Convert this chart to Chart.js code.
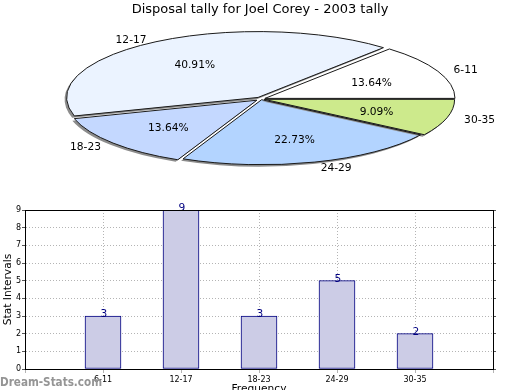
<!DOCTYPE html>
<html>
<head>
<meta charset="utf-8">
<script src="https://cdn.jsdelivr.net/npm/chart.js@4.4.1/dist/chart.umd.min.js"></script>
<style>
  body { margin: 0; background: #fff; }
  #wrap { position: relative; width: 520px; height: 390px; overflow: hidden; }
  #wrap canvas { position: absolute; left: 0; top: 0; }
</style>
</head>
<body>
<div id="wrap">
  <canvas id="barChart" width="520" height="400"></canvas>
  <canvas id="pieChart" width="520" height="390"></canvas>
</div>
<script>
// datos del grafico
var categories = ['6-11', '12-17', '18-23', '24-29', '30-35'];
var tally = [3, 9, 3, 5, 2];
var sliceColors = ['#ffffff', '#ebf3ff', '#c4d8ff', '#b3d4ff', '#cdea8c'];
var explode = [16, 20, 20, 8, 12];
var xLabels = [''].concat(categories).concat(['']);   // huecos a los lados como en el original
var barValues = [null].concat(tally).concat([null]);

var FONT = "'DejaVu Sans', sans-serif";

// elipse donde se dibuja la torta aplanada
var CX = 261, CY = 99, RX = 189, RY = 65;

function ellipse(ctx, arc) {
    ctx.translate(CX, CY);
    ctx.scale(RX / arc.outerRadius, -RY / arc.outerRadius);
    ctx.translate(-arc.x, -arc.y);
}

var flatPie = {
    id: 'flatPie',
    beforeDatasetsDraw: function (chart) {
        var ctx = chart.ctx;
        var arc = chart.getDatasetMeta(0).data[0];
        ctx.save();
        ellipse(ctx, arc);
        ctx.shadowColor = '#8c8c8c';   // borde 3d
        ctx.shadowOffsetX = -2;
        ctx.shadowOffsetY = 2;
    },
    afterDatasetsDraw: function (chart) {
        var ctx = chart.ctx;
        ctx.restore();
        var arcs = chart.getDatasetMeta(0).data;
        var total = tally.reduce(function (a, b) { return a + b; }, 0);

        arcs.forEach(function (a, i) {
            var off = (a.options.offset || 0) / 4;
            var mid = (a.startAngle + a.endAngle) / 2;
            var fix = 1 - Math.sin(Math.min(Math.PI, a.circumference));
            var r = a.outerRadius + off * fix;
            var ox = a.x + Math.cos(mid) * off, oy = a.y + Math.sin(mid) * off;
            // contorno: se arma el camino escalado y se traza sin escala
            ctx.save();
            ellipse(ctx, a);
            ctx.beginPath();
            ctx.moveTo(ox, oy);
            ctx.arc(ox, oy, r, a.startAngle, a.endAngle);
            ctx.closePath();
            ctx.restore();
            ctx.lineWidth = 1;
            ctx.strokeStyle = '#1a1a1a';
            ctx.stroke();

            // textos
            var c = Math.cos(mid), s = Math.sin(mid);
            var dx = c * off / a.outerRadius, dy = s * off / a.outerRadius;
            ctx.fillStyle = '#000';
            ctx.font = '10.67px ' + FONT;
            ctx.textBaseline = 'middle';
            ctx.textAlign = 'center';
            var pct = (tally[i] / total * 100).toFixed(2) + '%';
            ctx.fillText(pct, CX + RX * (0.62 * c + dx), CY - RY * (0.62 * s + dy) + 1.5);
            ctx.textAlign = c >= 0 ? 'left' : 'right';
            ctx.fillText(categories[i], CX + RX * 1.12 * c, CY - RY * 1.1 * s + 1);
        });
    }
};

new Chart(document.getElementById('pieChart'), {
    type: 'pie',
    data: {
        labels: categories,
        datasets: [{
            data: tally,
            backgroundColor: sliceColors,
            borderWidth: 0,
            offset: explode,
            hoverOffset: 0
        }]
    },
    options: {
        responsive: false,
        animation: false,
        events: [],
        rotation: 90,
        plugins: {
            legend: { display: false },
            tooltip: { enabled: false },
            title: {
                display: true,
                text: 'Disposal tally for Joel Corey - 2003 tally',
                color: '#000',
                font: { family: FONT, size: 13, weight: 'normal' },
                padding: { top: 2, bottom: 4 }
            }
        }
    },
    plugins: [flatPie]
});

var barExtras = {
    id: 'barExtras',
    afterDatasetsDraw: function (chart) {
        var ctx = chart.ctx;
        ctx.save();
        ctx.fillStyle = '#000080';
        ctx.font = '10.67px ' + FONT;
        ctx.textAlign = 'center';
        ctx.textBaseline = 'alphabetic';
        chart.getDatasetMeta(0).data.forEach(function (bar, i) {
            if (barValues[i] == null) return;
            ctx.fillText(String(barValues[i]), bar.x + 1, bar.y + 1);
        });
        ctx.restore();
    },
    afterDraw: function (chart) {
        var ctx = chart.ctx, a = chart.chartArea;
        ctx.save();
        ctx.strokeStyle = '#000';
        ctx.lineWidth = 1;
        ctx.strokeRect(Math.round(a.left) + 0.5, Math.round(a.top) + 0.5,
            Math.round(a.right - a.left), Math.round(a.bottom - a.top));
        // marca de agua
        ctx.fillStyle = '#959595';
        ctx.font = "bold 11.6px 'DejaVu Sans Condensed', 'DejaVu Sans', sans-serif";
        ctx.textAlign = 'left';
        ctx.textBaseline = 'alphabetic';
        ctx.fillText('Dream-Stats.com', 0, 386);
        ctx.restore();
    }
};

new Chart(document.getElementById('barChart'), {
    type: 'bar',
    data: {
        labels: xLabels,
        datasets: [{
            data: barValues,
            backgroundColor: '#ccccE6',
            borderColor: '#000080',
            borderWidth: 1,
            borderSkipped: false,
            barThickness: 36
        }]
    },
    options: {
        responsive: false,
        animation: false,
        events: [],
        layout: { padding: { top: 210, right: 27, left: 0, bottom: 0 } },
        plugins: {
            legend: { display: false },
            tooltip: { enabled: false }
        },
        scales: {
            x: {
                offset: false,
                z: 1,
                grid: { offset: false, color: '#b4b4b4', tickLength: 4, tickColor: '#b4b4b4' },
                border: { color: '#000', dash: [1, 2] },
                ticks: {
                    color: '#000', autoSkip: false, maxRotation: 0, padding: 2,
                    font: { family: FONT, size: 8 }
                },
                title: {
                    display: true, text: 'Frequency', color: '#000',
                    font: { family: FONT, size: 10.67 },
                    padding: { top: 0, bottom: 4 }
                },
                afterFit: function (s) { s.height = 31; }
            },
            y: {
                min: 0,
                max: 9,
                grid: { color: '#b4b4b4', tickLength: 3, tickColor: '#555' },
                border: { color: '#000', dash: [1, 2] },
                ticks: {
                    stepSize: 1, color: '#000', padding: 1,
                    font: { family: FONT, size: 8 }
                },
                title: {
                    display: true, text: 'Stat Intervals', color: '#000',
                    font: { family: FONT, size: 10.67 },
                    padding: { top: 2, bottom: 0 }
                },
                afterFit: function (s) { s.width = 25; }
            },
            y2: {
                position: 'right',
                min: 0,
                max: 9,
                grid: { drawOnChartArea: false, tickLength: 3, tickColor: '#555' },
                border: { color: '#000' },
                ticks: { stepSize: 1, display: false },
                afterFit: function (s) { s.width = 0; }
            }
        }
    },
    plugins: [barExtras]
});
</script>
</body>
</html>
